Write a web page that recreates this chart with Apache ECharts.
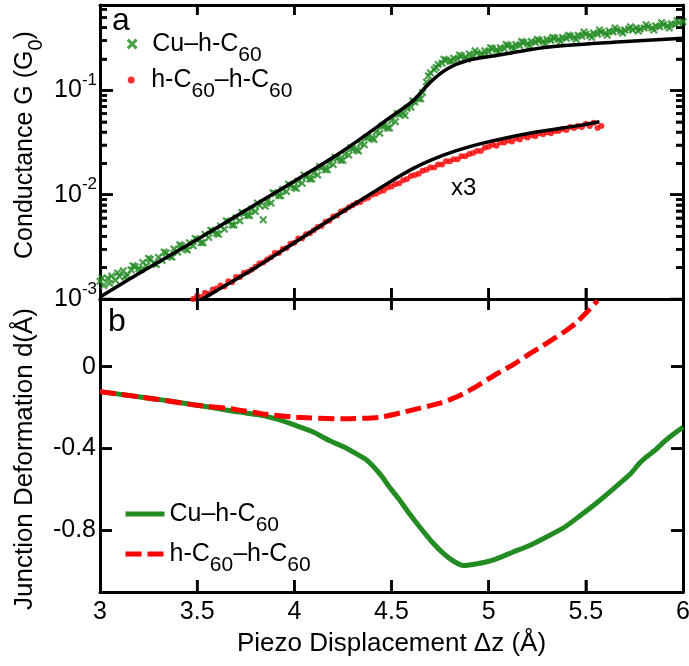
<!DOCTYPE html>
<html>
<head>
<meta charset="utf-8">
<script src="https://cdn.jsdelivr.net/npm/echarts@6/dist/echarts.min.js"></script>
<style>
  html, body { margin: 0; padding: 0; background: #fff; }
  #chart { width: 689px; height: 666px; }
</style>
</head>
<body>
<div id="chart"></div>
<script>
// tick values
const xTicks = [3.5, 4, 4.5, 5, 5.5]
const logMajorTicks = [0.001, 0.01, 0.1]
const logMinorTicks = [0.002, 0.003, 0.004, 0.005, 0.006, 0.007, 0.008, 0.009,
  0.02, 0.03, 0.04, 0.05, 0.06, 0.07, 0.08, 0.09, 0.2, 0.3, 0.4, 0.5, 0.6]
const deformTicks = [-0.8, -0.4, 0]

// panel a: [piezo dz (A), log10 G]
const cuLogG = [
  [3.00,-2.83],[3.02,-2.87],[3.04,-2.80],[3.06,-2.78],[3.08,-2.82],[3.10,-2.78],[3.12,-2.73],[3.14,-2.77],[3.16,-2.72],[3.18,-2.69],
  [3.20,-2.71],[3.22,-2.65],[3.24,-2.68],[3.26,-2.62],[3.28,-2.66],[3.30,-2.60],[3.32,-2.63],[3.34,-2.56],[3.36,-2.59],[3.38,-2.52],
  [3.40,-2.55],[3.42,-2.49],[3.44,-2.52],[3.46,-2.46],[3.48,-2.49],[3.50,-2.43],[3.52,-2.46],[3.54,-2.38],[3.56,-2.41],[3.58,-2.35],
  [3.60,-2.37],[3.62,-2.30],[3.64,-2.33],[3.66,-2.26],[3.68,-2.29],[3.70,-2.22],[3.72,-2.25],[3.74,-2.18],[3.76,-2.20],[3.78,-2.14],
  [3.80,-2.16],[3.82,-2.10],[3.84,-2.24],[3.86,-2.06],[3.88,-2.08],[3.90,-1.99],[3.92,-2.01],[3.94,-1.95],[3.96,-1.97],[3.98,-1.91],
  [4.00,-1.93],[4.02,-1.87],[4.04,-1.89],[4.06,-1.83],[4.08,-1.85],[4.10,-1.79],[4.12,-1.81],[4.14,-1.74],[4.16,-1.76],[4.18,-1.70],
  [4.20,-1.71],[4.22,-1.65],[4.24,-1.67],[4.26,-1.61],[4.28,-1.62],[4.30,-1.56],[4.32,-1.57],[4.34,-1.51],[4.36,-1.52],[4.38,-1.45],
  [4.40,-1.46],[4.42,-1.40],[4.44,-1.41],[4.46,-1.34],[4.48,-1.36],[4.50,-1.29],[4.52,-1.30],[4.54,-1.23],[4.56,-1.22],[4.58,-1.17],
  [4.60,-1.16],[4.62,-1.11],[4.64,-1.08],[4.66,-1.02],[4.68,-0.92],[4.70,-0.83],[4.72,-0.80],[4.74,-0.75],[4.76,-0.74],[4.78,-0.71],
  [4.80,-0.72],[4.82,-0.69],[4.84,-0.70],[4.86,-0.67],[4.88,-0.68],[4.90,-0.65],[4.92,-0.67],[4.94,-0.64],[4.96,-0.65],[4.98,-0.62],
  [5.00,-0.63],[5.02,-0.60],[5.04,-0.61],[5.06,-0.59],[5.08,-0.60],[5.10,-0.57],[5.12,-0.58],[5.14,-0.56],[5.16,-0.57],[5.18,-0.54],
  [5.20,-0.55],[5.22,-0.53],[5.24,-0.54],[5.26,-0.52],[5.28,-0.53],[5.30,-0.51],[5.32,-0.52],[5.34,-0.50],[5.36,-0.51],[5.38,-0.49],
  [5.40,-0.50],[5.42,-0.48],[5.44,-0.49],[5.46,-0.47],[5.48,-0.48],[5.50,-0.46],[5.52,-0.47],[5.54,-0.45],[5.56,-0.46],[5.58,-0.44],
  [5.60,-0.45],[5.62,-0.43],[5.64,-0.44],[5.66,-0.42],[5.68,-0.43],[5.70,-0.42],[5.72,-0.41],[5.74,-0.42],[5.76,-0.40],[5.78,-0.41],
  [5.80,-0.40],[5.82,-0.39],[5.84,-0.40],[5.86,-0.38],[5.88,-0.39],[5.90,-0.37],[5.92,-0.38],[5.94,-0.36],[5.96,-0.37],[5.98,-0.35],
  [6.00,-0.34]
]
const cuLogG2 = [
  [3.01,-2.80],[3.05,-2.85],[3.09,-2.75],[3.13,-2.79],[3.17,-2.68],[3.21,-2.72],[3.25,-2.61],[3.29,-2.67],[3.33,-2.55],[3.37,-2.60],
  [3.41,-2.48],[3.45,-2.53],[3.49,-2.42],[3.53,-2.46],[3.57,-2.34],[3.61,-2.38],[3.65,-2.25],[3.69,-2.29],[3.73,-2.17],[3.77,-2.20],
  [3.81,-2.08],[3.85,-2.11],[3.89,-1.98],[3.93,-2.01],[3.97,-1.90],[4.01,-1.94],[4.05,-1.81],[4.09,-1.85],[4.13,-1.73],[4.17,-1.76],
  [4.21,-1.64],[4.25,-1.67],[4.29,-1.55],[4.33,-1.58],[4.37,-1.45],[4.41,-1.47],[4.45,-1.34],[4.49,-1.36],[4.53,-1.22],[4.57,-1.24],
  [4.61,-1.10],[4.65,-1.08],[4.69,-0.86],[4.73,-0.78],[4.77,-0.70],[4.81,-0.72],[4.85,-0.66],[4.89,-0.70],[4.93,-0.62],[4.97,-0.66],
  [5.01,-0.59],[5.05,-0.63],[5.09,-0.56],[5.13,-0.60],[5.17,-0.53],[5.21,-0.57],[5.25,-0.51],[5.29,-0.55],[5.33,-0.49],[5.37,-0.53],
  [5.41,-0.47],[5.45,-0.51],[5.49,-0.44],[5.53,-0.49],[5.57,-0.42],[5.61,-0.47],[5.65,-0.40],[5.69,-0.45],[5.73,-0.39],[5.77,-0.43],
  [5.81,-0.37],[5.85,-0.42],[5.89,-0.35],[5.93,-0.40],[5.97,-0.33]
]
const c60LogG = [
  [3.48,-3.00],[3.50,-2.97],[3.52,-2.98],[3.54,-2.94],[3.56,-2.95],[3.58,-2.91],[3.60,-2.90],[3.62,-2.87],[3.64,-2.88],[3.66,-2.83],
  [3.68,-2.84],[3.70,-2.79],[3.72,-2.79],[3.74,-2.75],[3.76,-2.74],[3.78,-2.72],[3.80,-2.69],[3.82,-2.66],[3.84,-2.65],[3.86,-2.62],
  [3.88,-2.60],[3.90,-2.56],[3.92,-2.56],[3.94,-2.52],[3.96,-2.51],[3.98,-2.47],[4.00,-2.46],[4.02,-2.42],[4.04,-2.42],[4.06,-2.38],
  [4.08,-2.37],[4.10,-2.34],[4.12,-2.31],[4.14,-2.30],[4.16,-2.26],[4.18,-2.25],[4.20,-2.21],[4.22,-2.20],[4.24,-2.16],[4.26,-2.15],
  [4.28,-2.12],[4.30,-2.10],[4.32,-2.08],[4.34,-2.07],[4.36,-2.04],[4.38,-2.03],[4.40,-2.00],[4.42,-1.99],[4.44,-1.97],[4.46,-1.96],
  [4.48,-1.93],[4.50,-1.92],[4.52,-1.90],[4.54,-1.89],[4.56,-1.86],[4.58,-1.85],[4.60,-1.82],[4.62,-1.81],[4.64,-1.80],[4.66,-1.77],
  [4.68,-1.76],[4.70,-1.74],[4.72,-1.74],[4.74,-1.71],[4.76,-1.71],[4.78,-1.68],[4.80,-1.68],[4.82,-1.66],[4.84,-1.66],[4.86,-1.63],
  [4.88,-1.63],[4.90,-1.61],[4.92,-1.60],[4.94,-1.58],[4.96,-1.58],[4.98,-1.55],[5.00,-1.54],[5.02,-1.52],[5.04,-1.53],[5.06,-1.50],
  [5.08,-1.50],[5.10,-1.48],[5.12,-1.49],[5.14,-1.46],[5.16,-1.47],[5.18,-1.44],[5.20,-1.45],[5.22,-1.43],[5.24,-1.44],[5.26,-1.41],
  [5.28,-1.42],[5.30,-1.40],[5.32,-1.41],[5.34,-1.39],[5.36,-1.39],[5.38,-1.37],[5.40,-1.38],[5.42,-1.35],[5.44,-1.36],[5.46,-1.34],
  [5.48,-1.35],[5.50,-1.32],[5.52,-1.34],[5.54,-1.31],[5.56,-1.36],[5.58,-1.34]
]
const cuFitLogG = [
  [3.00,-2.98],[3.25,-2.70],[3.50,-2.43],[3.75,-2.15],[4.00,-1.87],[4.25,-1.58],[4.50,-1.25],[4.61,-1.10],
  [4.70,-0.92],[4.79,-0.79],[4.89,-0.713],[5.04,-0.665],[5.30,-0.586],[5.64,-0.538],[6.00,-0.50]
]
const c60FitLogG = [
  [3.50,-3.03],[3.60,-2.92],[3.80,-2.70],[4.00,-2.46],[4.25,-2.16],[4.49,-1.88],[4.61,-1.75],[4.70,-1.67],
  [4.83,-1.58],[4.96,-1.51],[5.21,-1.41],[5.47,-1.335],[5.57,-1.30]
]

// panel b: [piezo dz (A), deformation d (A)]
const cuDeform = [
  [3.00,-0.122],[3.15,-0.141],[3.30,-0.160],[3.45,-0.181],[3.60,-0.203],[3.67,-0.215],[3.75,-0.226],[3.84,-0.239],
  [3.92,-0.259],[4.01,-0.288],[4.10,-0.320],[4.18,-0.361],[4.25,-0.390],[4.32,-0.426],[4.37,-0.455],[4.41,-0.491],
  [4.45,-0.535],[4.49,-0.589],[4.54,-0.648],[4.58,-0.702],[4.62,-0.752],[4.66,-0.800],[4.71,-0.857],[4.77,-0.914],
  [4.82,-0.950],[4.87,-0.971],[4.90,-0.968],[4.94,-0.962],[4.98,-0.955],[5.04,-0.938],[5.12,-0.907],[5.21,-0.873],
  [5.30,-0.830],[5.39,-0.784],[5.47,-0.728],[5.56,-0.662],[5.64,-0.598],[5.73,-0.523],[5.77,-0.478],[5.81,-0.442],
  [5.86,-0.405],[5.90,-0.369],[5.95,-0.330],[6.00,-0.296]
]
const c60Deform = [
  [3.00,-0.122],[3.30,-0.160],[3.50,-0.189],[3.67,-0.205],[3.84,-0.231],[4.01,-0.247],[4.25,-0.255],[4.44,-0.247],
  [4.61,-0.211],[4.75,-0.178],[4.84,-0.146],[4.94,-0.095],[5.04,-0.036],[5.13,0.012],[5.21,0.062],[5.30,0.115],
  [5.39,0.170],[5.45,0.214],[5.52,0.281],[5.56,0.322]
]

const GREEN = '#228b22'
const RED = '#ff0000'
const FONT = 'Liberation Sans'
const X_MARK = 'path://M0,2L2,0L5,3L8,0L10,2L7,5L10,8L8,10L5,7L2,10L0,8L3,5Z'
const X_MIN = 3, X_MAX = 6, G_MIN = 0.001, G_MAX = 0.66, D_MIN = -1.1, D_MAX = 0.33

const toG = pts => pts.map(p => [p[0], Math.pow(10, p[1])])

// inward tick marks: value on the axes + pixel offsets of the two ends
const topTicks = [
  ...xTicks.map(x => ({value: [x, G_MAX], from: [0, 0], to: [0, 10]})),
  ...xTicks.map(x => ({value: [x, G_MIN], from: [0, -11], to: [0, 11]})),
  ...logMajorTicks.map(v => ({value: [X_MIN, v], from: [0, 0], to: [13, 0]})),
  ...logMinorTicks.map(v => ({value: [X_MIN, v], from: [0, 0], to: [7, 0]})),
  ...logMajorTicks.map(v => ({value: [X_MAX, v], from: [0, 0], to: [-13, 0]})),
  ...logMinorTicks.map(v => ({value: [X_MAX, v], from: [0, 0], to: [-7, 0]}))
]
const bottomTicks = [
  ...xTicks.map(x => ({value: [x, D_MIN], from: [0, 0], to: [0, -12]})),
  ...deformTicks.map(v => ({value: [X_MIN, v], from: [0, 0], to: [12, 0]})),
  ...deformTicks.map(v => ({value: [X_MAX, v], from: [0, 0], to: [-12, 0]}))
]

const frame = {show: true, onZero: false, lineStyle: {color: '#000', width: 3}}
const tick = (len, values) => {
  const t = {show: true, inside: true, length: len, lineStyle: {color: '#000', width: 2.5}}
  if (values) t.customValues = values
  return t
}
const xBase = {type: 'value', min: X_MIN, max: X_MAX, interval: 0.5, splitLine: {show: false}, axisLabel: {show: false}, axisLine: frame}
const logBase = {type: 'log', logBase: 10, min: G_MIN, max: G_MAX, gridIndex: 0, splitLine: {show: false}, axisLabel: {show: false}, axisLine: frame}
const dBase = {type: 'value', min: D_MIN, max: D_MAX, gridIndex: 1, splitLine: {show: false}, axisLabel: {show: false}, axisLine: frame}

const legendRich = {
  n: {fontSize: 25, lineHeight: 28, verticalAlign: 'middle', color: '#000', fontFamily: FONT},
  s: {fontSize: 21, lineHeight: 22, padding: [15, 0, 0, 0], verticalAlign: 'top', color: '#000', fontFamily: FONT}
}
const legendText = {
  'Cu–h-C60 data': '{n|Cu–h-C}{s|60}',
  'h-C60–h-C60 data': '{n|h-C}{s|60}{n|–h-C}{s|60}',
  'Cu–h-C60': '{n|Cu–h-C}{s|60}',
  'h-C60–h-C60': '{n|h-C}{s|60}{n|–h-C}{s|60}'
}
const oneLegend = (name, left, top, w, h, extra) => ({
  data: [name], left, top, padding: 0, orient: 'vertical', itemWidth: w, itemHeight: h,
  selectedMode: false, formatter: n => legendText[n], textStyle: {fontFamily: FONT, rich: legendRich}, ...extra
})

const chart = echarts.init(document.getElementById('chart'))
const option = {
  animation: false,
  textStyle: {fontFamily: FONT, color: '#000'},
  grid: [
    {left: 100, right: 6, top: 5, height: 294, containLabel: false, outerBoundsMode: 'none'},
    {left: 100, right: 6, top: 299, height: 293, containLabel: false, outerBoundsMode: 'none'}
  ],
  legend: [
    oneLegend('Cu–h-C60 data', 126.7, 30, 30, 11),
    oneLegend('h-C60–h-C60 data', 127.7, 66, 30, 7),
    oneLegend('Cu–h-C60', 123, 500, 39, 14, {itemStyle: {opacity: 0}, lineStyle: {color: GREEN, width: 5, type: 'solid'}}),
    oneLegend('h-C60–h-C60', 123, 540, 39, 14, {itemStyle: {opacity: 0}, lineStyle: {color: RED, width: 5, type: [16, 6]}})
  ],
  xAxis: [
    {...xBase, gridIndex: 0, position: 'bottom', axisTick: tick(11)},
    {...xBase, gridIndex: 0, position: 'top', axisTick: tick(10)},
    {...xBase, gridIndex: 1, position: 'top', axisTick: tick(11)},
    {
      ...xBase, gridIndex: 1, position: 'bottom', axisTick: tick(12),
      axisLabel: {show: true, fontSize: 25, color: '#000', margin: 8},
      name: 'Piezo Displacement Δz (Å)', nameLocation: 'middle', nameGap: 39,
      nameTextStyle: {fontSize: 26, color: '#000'}
    }
  ],
  yAxis: [
    {
      ...logBase, position: 'left', axisTick: tick(13, logMajorTicks),
      axisLabel: {
        show: true, customValues: logMajorTicks, margin: 3,
        formatter: v => '{b|10}{s|' + Math.round(Math.log10(v)) + '}',
        rich: {
          b: {fontSize: 25, lineHeight: 37, verticalAlign: 'middle', color: '#000'},
          s: {fontSize: 17, lineHeight: 17, verticalAlign: 'top', color: '#000'}
        }
      }
    },
    {...logBase, position: 'right', axisTick: tick(13, logMajorTicks)},
    {...dBase, position: 'left', axisTick: tick(12, deformTicks), axisLabel: {show: true, customValues: deformTicks, fontSize: 25, color: '#000', margin: 4}},
    {...dBase, position: 'right', axisTick: tick(12, deformTicks)},
    {...logBase, position: 'left', axisLine: {show: false}, axisTick: tick(7, logMinorTicks)},
    {...logBase, position: 'right', axisLine: {show: false}, axisTick: tick(7, logMinorTicks)}
  ],
  series: [
    {
      type: 'scatter', name: 'Cu–h-C60 data', xAxisIndex: 0, yAxisIndex: 0, data: toG(cuLogG.concat(cuLogG2)),
      symbol: X_MARK, symbolSize: 8, itemStyle: {color: GREEN}, z: 2
    },
    {
      type: 'scatter', name: 'h-C60–h-C60 data', xAxisIndex: 0, yAxisIndex: 0, data: toG(c60LogG),
      symbol: 'circle', symbolSize: 6, itemStyle: {color: RED}, z: 2
    },
    {
      type: 'line', name: 'fit Cu', xAxisIndex: 0, yAxisIndex: 0, data: toG(cuFitLogG), smooth: 0.3,
      symbol: 'none', lineStyle: {color: '#000', width: 3.5}, z: 5
    },
    {
      type: 'line', name: 'fit C60', xAxisIndex: 0, yAxisIndex: 0, data: toG(c60FitLogG), smooth: 0.3,
      symbol: 'none', lineStyle: {color: '#000', width: 3.5}, z: 5
    },
    {
      type: 'line', name: 'Cu–h-C60', xAxisIndex: 3, yAxisIndex: 2, data: cuDeform, smooth: 0.2,
      symbol: 'none', itemStyle: {color: GREEN}, lineStyle: {color: GREEN, width: 5}
    },
    {
      type: 'line', name: 'h-C60–h-C60', xAxisIndex: 3, yAxisIndex: 2, data: c60Deform, smooth: 0.2,
      symbol: 'none', itemStyle: {color: RED}, lineStyle: {color: RED, width: 5, type: [16, 6]}
    }
  ],
  graphic: [
    {type: 'text', x: 112, y: 21, style: {text: 'a', font: '32px ' + FONT, fill: '#000', verticalAlign: 'middle'}},
    {type: 'text', x: 108, y: 322, style: {text: 'b', font: '32px ' + FONT, fill: '#000', verticalAlign: 'middle'}},
    {type: 'text', x: 451, y: 188, style: {text: 'x3', font: '24px ' + FONT, fill: '#000', verticalAlign: 'middle'}},
    {
      type: 'text', x: 25, y: 145, rotation: Math.PI / 2,
      style: {
        text: '{n|Conductance G (G}{s|0}{n|)}', align: 'center', verticalAlign: 'middle', fill: '#000',
        rich: {
          n: {fontSize: 25, lineHeight: 28, verticalAlign: 'middle', fontFamily: FONT},
          s: {fontSize: 20, lineHeight: 20, padding: [15, 0, 0, 0], verticalAlign: 'top', fontFamily: FONT}
        }
      }
    },
    {
      type: 'text', x: 25, y: 459, rotation: Math.PI / 2,
      style: {text: 'Junction Deformation d(Å)', font: '26px ' + FONT, fill: '#000', align: 'center', verticalAlign: 'middle'}
    }
  ]
}

try {
  chart.setOption(option)
} catch (e) {
  console.error(e)
}

// tick marks on their own canvas layer, placed through the chart's axis scales
const toPixel = (xi, yi, val) => {
  let p = null
  try { p = chart.convertToPixel({xAxisIndex: xi, yAxisIndex: yi}, val) } catch (e) { p = null }
  if (!p || !isFinite(p[0]) || !isFinite(p[1])) {
    const model = chart.getModel()
    const xa = model.getComponent('xAxis', xi).axis
    const ya = model.getComponent('yAxis', yi).axis
    p = [xa.toGlobalCoord(xa.dataToCoord(val[0])), ya.toGlobalCoord(ya.dataToCoord(val[1]))]
  }
  return p
}
let tickEls = []
const drawTicks = () => {
  const zr = chart.getZr()
  tickEls.forEach(el => zr.remove(el))
  tickEls = []
  const add = (specs, xi, yi) => specs.forEach(s => {
    const p = toPixel(xi, yi, s.value)
    const el = new echarts.graphic.Line({
      shape: {x1: p[0] + s.from[0], y1: p[1] + s.from[1], x2: p[0] + s.to[0], y2: p[1] + s.to[1]},
      style: {stroke: '#000', lineWidth: 2.5, lineDash: null, opacity: 1},
      zlevel: 1, z: 1, silent: true
    })
    zr.add(el)
    tickEls.push(el)
  })
  add(topTicks, 0, 0)
  add(bottomTicks, 3, 2)
}
try { drawTicks() } catch (e) { console.error(e) }
chart.on('finished', () => { try { drawTicks() } catch (e) { console.error(e) } })
setTimeout(() => { try { drawTicks() } catch (e) { console.error(e) } }, 150)
</script>
</body>
</html>
